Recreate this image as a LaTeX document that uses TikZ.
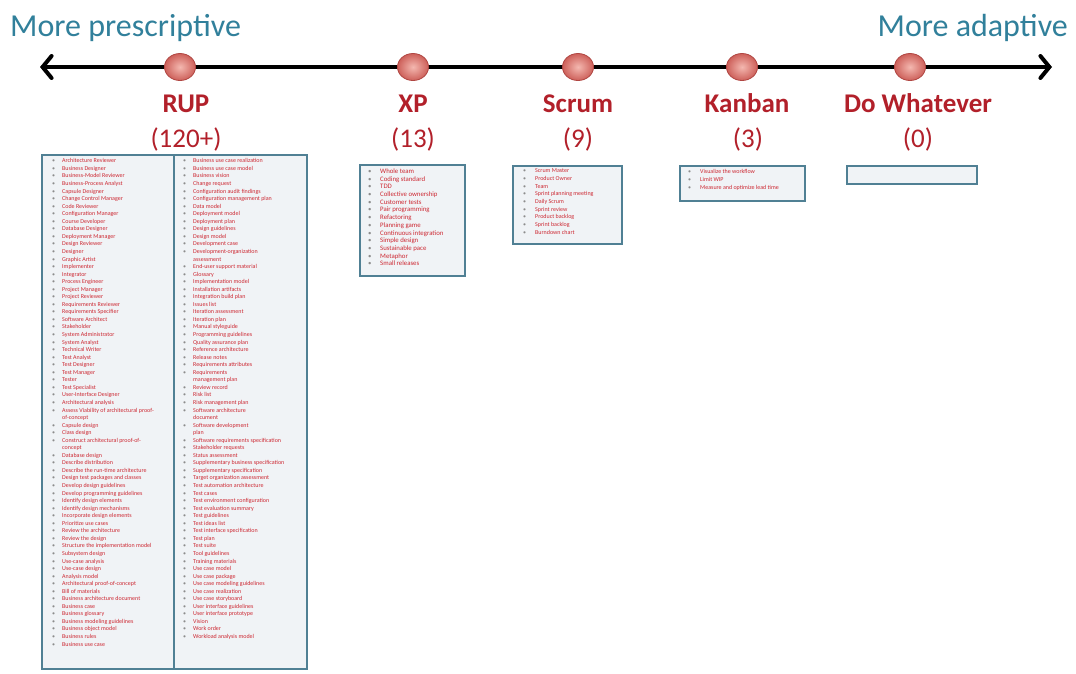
\documentclass[tikz,border=0pt]{standalone}
\usepackage{fontspec}
\setmainfont{Carlito}
\usetikzlibrary{arrows.meta,shapes.geometric}
\definecolor{headteal}{RGB}{49,128,155}
\definecolor{labelred}{RGB}{178,32,42}
\definecolor{itemred}{RGB}{205,40,50}
\definecolor{bulletgray}{RGB}{140,140,140}
\definecolor{boxedge}{RGB}{80,128,148}
\definecolor{boxfill}{RGB}{240,243,246}
\definecolor{ballin}{RGB}{244,184,176}
\definecolor{ballout}{RGB}{205,96,90}
\definecolor{balledge}{RGB}{176,70,66}
\newcommand{\rupitem}[1]{\makebox[10pt][l]{\textcolor{bulletgray}{\textbullet}}\textcolor{itemred}{#1}}
\newcommand{\rupcont}[1]{\hspace*{10pt}\textcolor{itemred}{#1}}
\newcommand{\xpitem}[1]{\makebox[12pt][l]{\textcolor{bulletgray}{\textbullet}}\textcolor{itemred}{#1}}
\begin{document}
\begin{tikzpicture}[x=1pt,y=-1pt,
  headtext/.style={font=\fontsize{32}{36}\selectfont, text=headteal, inner sep=0pt},
  methname/.style={font=\fontsize{27}{30}\selectfont\bfseries, text=labelred, inner sep=0pt, anchor=base},
  methcount/.style={font=\fontsize{27}{30}\selectfont, text=labelred, inner sep=0pt, anchor=base},
  ballnode/.style={ellipse, minimum width=31pt, minimum height=27pt, inner sep=0pt, draw=balledge, line width=0.8pt, inner color=ballin, outer color=ballout},
  listbox/.style={draw=boxedge, fill=boxfill, line width=1.4pt},
  itemlist/.style={font=\fontsize{6}{7.55}\selectfont, align=left, inner sep=0pt, anchor=north west},
  shortlist/.style={font=\fontsize{6}{7.7}\selectfont, align=left, inner sep=0pt, anchor=north west},
  xplist/.style={font=\fontsize{6.8}{7.7}\selectfont, align=left, inner sep=0pt, anchor=north west}
]
\useasboundingbox (0,0) rectangle (1076,673);
\fill[white] (0,0) rectangle (1076,673);

% headings
\node[headtext, anchor=base west] (presc) at (10,36) {More prescriptive};
\node[headtext, anchor=base east] (adapt) at (1068,36) {More adaptive};

% axis
\coordinate (axL) at (40,67);
\coordinate (axR) at (1052,67);
\draw[line width=4pt, {Straight Barb[length=9pt,width=22pt,line cap=round]}-{Straight Barb[length=9pt,width=22pt,line cap=round]}] (axL) -- (axR);

% balls
\node[ballnode] (bRUP) at (180,67) {};
\node[ballnode] (bXP) at (413,67) {};
\node[ballnode] (bScrum) at (578,67) {};
\node[ballnode] (bKanban) at (742,67) {};
\node[ballnode] (bDo) at (910,67) {};

% labels
\node[methname] (lRUP) at (186,112) {RUP};
\node[methcount] (cRUP) at (186,147) {(120+)};
\node[methname] (lXP) at (413,112) {XP};
\node[methcount] (cXP) at (413,147) {(13)};
\node[methname] (lScrum) at (578,112) {Scrum};
\node[methcount] (cScrum) at (578,147) {(9)};
\node[methname] (lKanban) at (747,112) {Kanban};
\node[methcount] (cKanban) at (748,147) {(3)};
\node[methname] (lDo) at (918,112) {Do Whatever};
\node[methcount] (cDo) at (918,147) {(0)};

% boxes
\draw[listbox] (42,155) rectangle (307,669);
\draw[boxedge, line width=1.4pt] (174,155) -- (174,669);
\draw[listbox] (360,165) rectangle (465,276);
\draw[listbox] (513,166) rectangle (622,244);
\draw[listbox] (680,166) rectangle (805,201);
\draw[listbox] (847,166) rectangle (977,184);

% RUP left column
\node[itemlist] (rupL) at (52,158.5) {%
\rupitem{Architecture Reviewer}\\
\rupitem{Business Designer}\\
\rupitem{Business-Model Reviewer}\\
\rupitem{Business-Process Analyst}\\
\rupitem{Capsule Designer}\\
\rupitem{Change Control Manager}\\
\rupitem{Code Reviewer}\\
\rupitem{Configuration Manager}\\
\rupitem{Course Developer}\\
\rupitem{Database Designer}\\
\rupitem{Deployment Manager}\\
\rupitem{Design Reviewer}\\
\rupitem{Designer}\\
\rupitem{Graphic Artist}\\
\rupitem{Implementer}\\
\rupitem{Integrator}\\
\rupitem{Process Engineer}\\
\rupitem{Project Manager}\\
\rupitem{Project Reviewer}\\
\rupitem{Requirements Reviewer}\\
\rupitem{Requirements Specifier}\\
\rupitem{Software Architect}\\
\rupitem{Stakeholder}\\
\rupitem{System Administrator}\\
\rupitem{System Analyst}\\
\rupitem{Technical Writer}\\
\rupitem{Test Analyst}\\
\rupitem{Test Designer}\\
\rupitem{Test Manager}\\
\rupitem{Tester}\\
\rupitem{Test Specialist}\\
\rupitem{User-Interface Designer}\\
\rupitem{Architectural analysis}\\
\rupitem{Assess Viability of architectural proof-}\\
\rupcont{of-concept}\\
\rupitem{Capsule design}\\
\rupitem{Class design}\\
\rupitem{Construct architectural proof-of-}\\
\rupcont{concept}\\
\rupitem{Database design}\\
\rupitem{Describe distribution}\\
\rupitem{Describe the run-time architecture}\\
\rupitem{Design test packages and classes}\\
\rupitem{Develop design guidelines}\\
\rupitem{Develop programming guidelines}\\
\rupitem{Identify design elements}\\
\rupitem{Identify design mechanisms}\\
\rupitem{Incorporate design elements}\\
\rupitem{Prioritize use cases}\\
\rupitem{Review the architecture}\\
\rupitem{Review the design}\\
\rupitem{Structure the implementation model}\\
\rupitem{Subsystem design}\\
\rupitem{Use-case analysis}\\
\rupitem{Use-case design}\\
\rupitem{Analysis model}\\
\rupitem{Architectural proof-of-concept}\\
\rupitem{Bill of materials}\\
\rupitem{Business architecture document}\\
\rupitem{Business case}\\
\rupitem{Business glossary}\\
\rupitem{Business modeling guidelines}\\
\rupitem{Business object model}\\
\rupitem{Business rules}\\
\rupitem{Business use case}};

% RUP right column
\node[itemlist] (rupR) at (183,158.5) {%
\rupitem{Business use case realization}\\
\rupitem{Business use case model}\\
\rupitem{Business vision}\\
\rupitem{Change request}\\
\rupitem{Configuration audit findings}\\
\rupitem{Configuration management plan}\\
\rupitem{Data model}\\
\rupitem{Deployment model}\\
\rupitem{Deployment plan}\\
\rupitem{Design guidelines}\\
\rupitem{Design model}\\
\rupitem{Development case}\\
\rupitem{Development-organization}\\
\rupcont{assessment}\\
\rupitem{End-user support material}\\
\rupitem{Glossary}\\
\rupitem{Implementation model}\\
\rupitem{Installation artifacts}\\
\rupitem{Integration build plan}\\
\rupitem{Issues list}\\
\rupitem{Iteration assessment}\\
\rupitem{Iteration plan}\\
\rupitem{Manual styleguide}\\
\rupitem{Programming guidelines}\\
\rupitem{Quality assurance plan}\\
\rupitem{Reference architecture}\\
\rupitem{Release notes}\\
\rupitem{Requirements attributes}\\
\rupitem{Requirements}\\
\rupcont{management plan}\\
\rupitem{Review record}\\
\rupitem{Risk list}\\
\rupitem{Risk management plan}\\
\rupitem{Software architecture}\\
\rupcont{document}\\
\rupitem{Software development}\\
\rupcont{plan}\\
\rupitem{Software requirements specification}\\
\rupitem{Stakeholder requests}\\
\rupitem{Status assessment}\\
\rupitem{Supplementary business specification}\\
\rupitem{Supplementary specification}\\
\rupitem{Target organization assessment}\\
\rupitem{Test automation architecture}\\
\rupitem{Test cases}\\
\rupitem{Test environment configuration}\\
\rupitem{Test evaluation summary}\\
\rupitem{Test guidelines}\\
\rupitem{Test ideas list}\\
\rupitem{Test interface specification}\\
\rupitem{Test plan}\\
\rupitem{Test suite}\\
\rupitem{Tool guidelines}\\
\rupitem{Training materials}\\
\rupitem{Use case model}\\
\rupitem{Use case package}\\
\rupitem{Use case modeling guidelines}\\
\rupitem{Use case realization}\\
\rupitem{Use case storyboard}\\
\rupitem{User interface guidelines}\\
\rupitem{User interface prototype}\\
\rupitem{Vision}\\
\rupitem{Work order}\\
\rupitem{Workload analysis model}};

% XP list
\node[xplist] (xpL) at (368,168.5) {%
\xpitem{Whole team}\\
\xpitem{Coding standard}\\
\xpitem{TDD}\\
\xpitem{Collective ownership}\\
\xpitem{Customer tests}\\
\xpitem{Pair programming}\\
\xpitem{Refactoring}\\
\xpitem{Planning game}\\
\xpitem{Continuous integration}\\
\xpitem{Simple design}\\
\xpitem{Sustainable pace}\\
\xpitem{Metaphor}\\
\xpitem{Small releases}};

% Scrum list
\node[shortlist] (scL) at (523,168.5) {%
\xpitem{Scrum Master}\\
\xpitem{Product Owner}\\
\xpitem{Team}\\
\xpitem{Sprint planning meeting}\\
\xpitem{Daily Scrum}\\
\xpitem{Sprint review}\\
\xpitem{Product backlog}\\
\xpitem{Sprint backlog}\\
\xpitem{Burndown chart}};

% Kanban list
\node[shortlist] (kbL) at (688,169.5) {%
\xpitem{Visualize the workflow}\\
\xpitem{Limit WIP}\\
\xpitem{Measure and optimize lead time}};
\end{tikzpicture}
\end{document}
